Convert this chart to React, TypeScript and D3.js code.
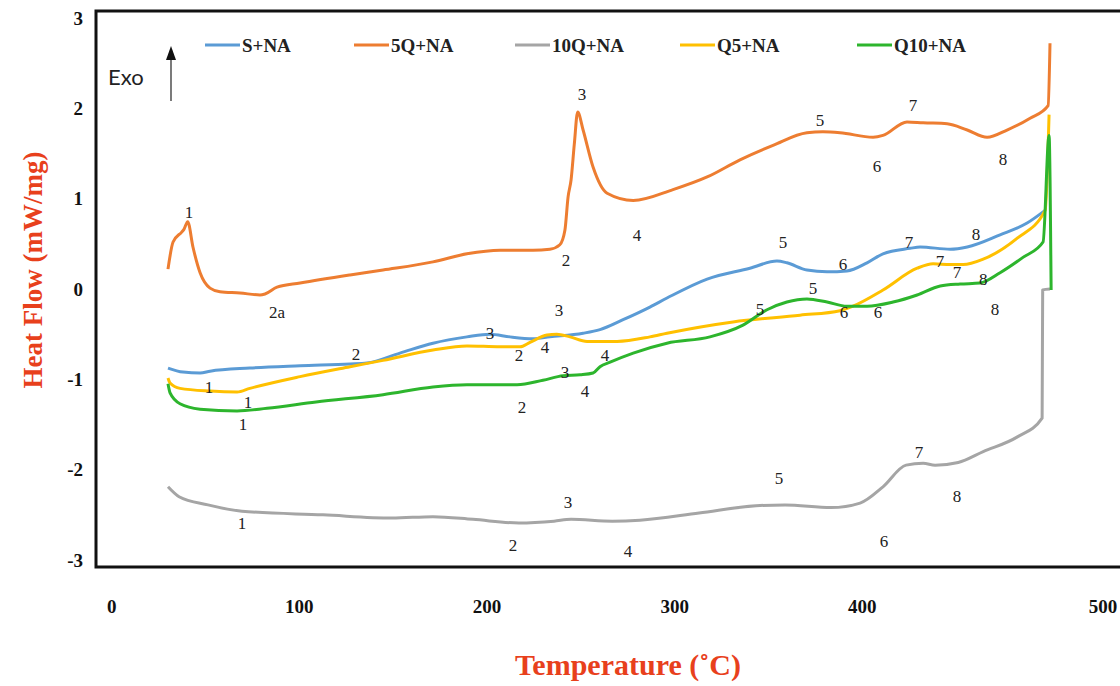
import React from 'react'
import * as d3 from 'd3'

// DSC curves, [temperature °C, heat flow mW/mg]
const sNA: [number, number][] = [
  [30, -0.875], [38, -0.92], [47.1, -0.93], [52.4, -0.91], [73.6, -0.875], [100.4, -0.85],
  [127, -0.83], [136, -0.82], [153.6, -0.71], [171.2, -0.6], [189.3, -0.53], [201.6, -0.5],
  [212.2, -0.53], [224.5, -0.55], [233.5, -0.53], [251.2, -0.49], [260.2, -0.45], [272.5, -0.34],
  [286.8, -0.2], [295.9, -0.1], [317.3, 0.11], [340.1, 0.23], [354.5, 0.31], [359.8, 0.29],
  [370.5, 0.21], [381.2, 0.19], [391.8, 0.2], [402.5, 0.29], [411, 0.39], [425.4, 0.45],
  [430.8, 0.465], [446.8, 0.44], [455.9, 0.465], [473.4, 0.6], [487.8, 0.73], [497.4, 0.87],
]

const q5NA: [number, number][] = [
  [30, 0.22], [32.7, 0.52], [37.3, 0.63], [38.5, 0.66], [40.5, 0.745], [43.3, 0.465],
  [47.1, 0.18], [52.4, 0.01], [57.7, -0.03], [68.4, -0.044], [79, -0.066], [81.7, -0.055],
  [88.1, 0.02], [100.4, 0.066], [127, 0.155], [144.6, 0.21], [171.2, 0.3], [189.3, 0.39],
  [207, 0.43], [224.5, 0.43], [233.5, 0.44], [238.8, 0.49], [241.5, 0.65], [243.2, 1.02],
  [244.8, 1.21], [246.5, 1.6], [248.3, 1.96], [251.2, 1.76], [256.5, 1.35], [264, 1.06],
  [277.9, 0.98], [299.1, 1.1], [317.3, 1.24], [334.8, 1.43], [352.4, 1.59], [370.5, 1.73],
  [379, 1.74], [388.1, 1.73], [405.7, 1.68], [411, 1.7], [423.8, 1.85], [432.4, 1.84],
  [445.2, 1.83], [455.9, 1.76], [466.5, 1.68], [477.1, 1.76], [489.4, 1.89], [499, 2.03],
  [500, 2.72],
]

const q10NAgray: [number, number][] = [
  [30, -2.19], [35.9, -2.3], [51.3, -2.39], [69.4, -2.46], [112.6, -2.5], [149.4, -2.535],
  [171.2, -2.52], [192.5, -2.55], [217, -2.59], [235.7, -2.57], [244.8, -2.55], [266.7, -2.57],
  [281.5, -2.56], [313, -2.48], [343.3, -2.4], [358.8, -2.39], [383.3, -2.42], [398.8, -2.37],
  [411, -2.19], [423.3, -1.95], [432.4, -1.93], [438.8, -1.95], [451.1, -1.92], [464.4, -1.8],
  [482.4, -1.64], [495.8, -1.43], [496.1, -0.01], [500, 0],
]

const Q5NA: [number, number][] = [
  [30, -0.985], [31.1, -1.04], [36.4, -1.1], [52.4, -1.13], [66.8, -1.14], [73.6, -1.1],
  [100.4, -0.97], [127, -0.86], [144.6, -0.79], [171.2, -0.675], [189.3, -0.63], [207, -0.64],
  [217.6, -0.64], [222.9, -0.59], [232, -0.51], [237.2, -0.5], [244.2, -0.53], [253.3, -0.58],
  [269.3, -0.58], [286.8, -0.53], [295.9, -0.49], [331.1, -0.365], [366.8, -0.29], [388.1, -0.24],
  [395, -0.19], [411, -0.011], [429.2, 0.23], [437.7, 0.28], [446.8, 0.27], [453.7, 0.27],
  [464.4, 0.33], [482.4, 0.56], [497.4, 0.87], [499.5, 1.93],
]

const Q10NA: [number, number][] = [
  [30, -1.05], [31.1, -1.15], [36.4, -1.27], [47.1, -1.33], [66.8, -1.35], [82.8, -1.32],
  [108.9, -1.25], [144.6, -1.17], [171.2, -1.085], [189.3, -1.06], [216, -1.06], [229.8, -1.01],
  [240.5, -0.96], [249.6, -0.95], [256.5, -0.93], [260.2, -0.86], [265.6, -0.81], [277.9, -0.71],
  [295.9, -0.6], [318.8, -0.53], [336.4, -0.4], [349.2, -0.23], [359.8, -0.144], [370.5, -0.11],
  [381.2, -0.144], [391.8, -0.19], [402.5, -0.19], [416.4, -0.144], [429.2, -0.066], [441.5, 0.033],
  [452.1, 0.055], [462.7, 0.066], [473.4, 0.18], [485.6, 0.35], [496.3, 0.52], [499.5, 1.7],
  [500.6, -0.011],
]

const seriesNames = ['S+NA', '5Q+NA', '10Q+NA', 'Q5+NA', 'Q10+NA']
const seriesColors = ['#5b9bd5', '#ed7d31', '#a5a5a5', '#ffc000', '#2db52d']
const seriesData = [sNA, q5NA, q10NAgray, Q5NA, Q10NA]
// draw order (gray first, then the rest)
const drawOrder = [2, 0, 3, 1, 4]

const xTicks = [0, 100, 200, 300, 400, 500]
const yTicks = [3, 2, 1, 0, -1, -2, -3]

// peak annotations [temperature, heat flow, label]
const peakLabels: [number, number, string][] = [
  // 5Q+NA
  [41.2, 0.85, '1'], [88.1, -0.255, '2a'], [242.1, 0.31, '2'], [250.6, 2.15, '3'],
  [279.9, 0.59, '4'], [377.4, 1.87, '5'], [407.8, 1.36, '6'], [427, 2.03, '7'], [474.9, 1.43, '8'],
  // S+NA
  [130.2, -0.73, '2'], [201.6, -0.49, '3'], [357.7, 0.51, '5'], [389.7, 0.27, '6'],
  [424.9, 0.51, '7'], [460.6, 0.6, '8'],
  // Q5+NA
  [51.9, -1.085, '1'], [72.6, -1.26, '1'], [217.1, -0.74, '2'], [238.4, -0.24, '3'],
  [230.9, -0.65, '4'], [345.4, -0.23, '5'], [390.2, -0.255, '6'], [441.4, 0.3, '7'], [464.4, 0.1, '8'],
  // Q10+NA
  [70, -1.505, '1'], [218.7, -1.31, '2'], [241.5, -0.92, '3'], [252.2, -1.13, '4'],
  [262.9, -0.74, '4'], [373.7, 0.011, '5'], [408.4, -0.255, '6'], [450.5, 0.18, '7'], [470.7, -0.23, '8'],
  // 10Q+NA
  [69.4, -2.6, '1'], [213.8, -2.845, '2'], [243.2, -2.36, '3'], [275.1, -2.91, '4'],
  [355.6, -2.1, '5'], [411.5, -2.8, '6'], [430.2, -1.815, '7'], [450.5, -2.3, '8'],
]

const W = 1120
const H = 686

const App = () => {
  const x = d3.scaleLinear().domain([0, 500]).range([111.7, 1050])
  const y = d3.scaleLinear().domain([-3, 3]).range([560, 18])

  const line = d3.line<[number, number]>()
    .x(d => x(d[0]))
    .y(d => y(d[1]))
    .curve(d3.curveMonotoneX)

  const serif = '"Liberation Serif", "Times New Roman", serif'
  const red = '#e8401c'

  // legend layout
  const legendX = [205, 354, 515, 680, 857]

  return (
    <div style={{position: 'fixed', left: 0, top: 0}}>
      <svg width={W} height={H} style={{display: 'block', background: '#fff'}}>
        {/* frame */}
        <path d="M1125,11 H96 V567 H1125" fill="none" stroke="#111" strokeWidth={3}/>

        {drawOrder.map(i => (
          <path
            key={seriesNames[i]}
            d={line(seriesData[i]) || ''}
            fill="none"
            stroke={seriesColors[i]}
            strokeWidth={3}
            strokeLinejoin="round"
          />
        ))}

        {peakLabels.map((p, i) => (
          <text
            key={i}
            x={x(p[0])}
            y={y(p[1])}
            textAnchor="middle"
            dominantBaseline="central"
            fontFamily={serif}
            fontSize={17}
            fill="#222"
          >
            {p[2]}
          </text>
        ))}

        {/* y tick labels */}
        {yTicks.map(t => (
          <text
            key={t}
            x={83}
            y={y(t)}
            textAnchor="end"
            dominantBaseline="central"
            fontFamily={serif}
            fontWeight="bold"
            fontSize={19}
            fill="#111"
          >
            {t}
          </text>
        ))}

        {/* x tick labels */}
        {xTicks.map(t => (
          <text
            key={t}
            x={x(t) + (t === 500 ? 53 : 0)}
            y={606}
            textAnchor="middle"
            dominantBaseline="central"
            fontFamily={serif}
            fontWeight="bold"
            fontSize={19}
            fill="#111"
          >
            {t}
          </text>
        ))}

        {/* axis titles */}
        <text
          transform="translate(33,270) rotate(-90)"
          textAnchor="middle"
          dominantBaseline="central"
          fontFamily={serif}
          fontWeight="bold"
          fontSize={27}
          fill={red}
        >
          Heat Flow (mW/mg)
        </text>
        <text
          x={628}
          y={664}
          textAnchor="middle"
          dominantBaseline="central"
          fontFamily={serif}
          fontWeight="bold"
          fontSize={30}
          fill={red}
        >
          Temperature (˚C)
        </text>

        {/* legend */}
        {seriesNames.map((name, i) => (
          <g key={name} transform={`translate(${legendX[i]},45)`}>
            <line x1={0} x2={35} y1={0} y2={0} stroke={seriesColors[i]} strokeWidth={3}/>
            <text
              x={37}
              y={0}
              dominantBaseline="central"
              fontFamily={serif}
              fontWeight="bold"
              fontSize={19}
              fill="#222"
            >
              {name}
            </text>
          </g>
        ))}

        {/* Exo arrow */}
        <text x={108} y={76} dominantBaseline="central" fontFamily="Lato, sans-serif" fontSize={22} fill="#222">
          Exo
        </text>
        <line x1={171} x2={171} y1={101} y2={58} stroke="#222" strokeWidth={1.2}/>
        <path d="M171,46 L166,60 L176,60 Z" fill="#111"/>
      </svg>
    </div>
  )
}

export default App
